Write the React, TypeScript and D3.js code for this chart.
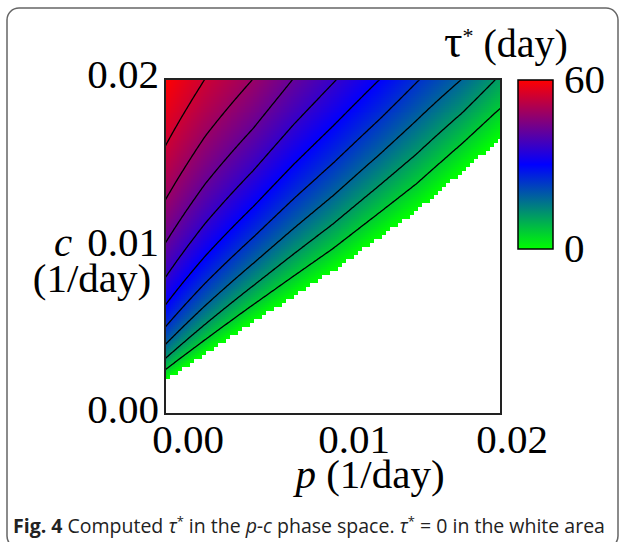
import { useEffect, useRef } from "react";
import * as d3 from "d3";

// axis ticks
const pTicks = [0, 0.01, 0.02];
const cTicks = [0, 0.01, 0.02];
const barTicks = [0, 60];

// contour levels of tau* (day)
const contourLevels = [6, 12, 18, 24, 30, 36, 42, 48, 54];

const topEdgeP = [0, 0.00238, 0.00524, 0.00762, 0.01024, 0.0128, 0.01518, 0.01768, 0.0197, 0.02];
const topEdgeTau = [60, 54, 48, 42, 36, 30, 24, 18, 12, 11.3];

// edge of the white area (tau* = 0)
const zeroEdgeP = [0, 0.005, 0.01, 0.015, 0.02];
const zeroEdgeC = [0.0021, 0.0054, 0.0086, 0.0122, 0.0165];

// colour map
const colorDomain = [0, 30, 60];
const colorRange = ["#00ff00", "#0000ff", "#ff0000"];

const App = () => {
  const svgRef = useRef(null);

  useEffect(() => {
    const svg = d3.select(svgRef.current);
    svg.selectAll("*").remove();

    const left = 165, top = 79, pw = 336, ph = 335;
    const pMax = 0.02, cMax = 0.02;
    const serif = "'Liberation Serif', 'Times New Roman', serif";

    const x = d3.scaleLinear().domain([0, pMax]).range([left, left + pw]);
    const y = d3.scaleLinear().domain([0, cMax]).range([top + ph, top]);
    const color = d3.scaleLinear<string>().domain(colorDomain).range(colorRange).clamp(true);

    const topTau = d3.scaleLinear().domain(topEdgeP).range(topEdgeTau);
    const zeroC = d3.scaleLinear().domain(zeroEdgeP).range(zeroEdgeC);
    // spread the top-edge value down to the white-area edge (log in c)
    const tau = (p, c) => {
      const c0 = zeroC(p);
      return (topTau(p) * Math.log(c / c0)) / Math.log(cMax / c0);
    };

    // frame round the figure
    svg
      .append("rect")
      .attr("x", 7)
      .attr("y", 8)
      .attr("width", 611)
      .attr("height", 540)
      .attr("rx", 12)
      .attr("fill", "none")
      .attr("stroke", "#666")
      .attr("stroke-width", 1.5);

    // heat map: coarse cells decide the white area, fine cells carry the colour
    const coarse = 84;
    const fine = coarse * 2;
    const cells = [];
    for (let i = 0; i < fine; i++) {
      for (let j = 0; j < fine; j++) {
        const ci = Math.floor(i / 2), cj = Math.floor(j / 2);
        const tc = tau(((ci + 0.5) / coarse) * pMax, ((cj + 0.5) / coarse) * cMax);
        if (tc <= 0) continue;
        const t = tau(((i + 0.5) / fine) * pMax, ((j + 0.5) / fine) * cMax);
        cells.push({ i, j, t: Math.max(0, t) });
      }
    }
    const dp = pMax / fine, dc = cMax / fine;
    svg
      .append("g")
      .attr("shape-rendering", "crispEdges")
      .selectAll("rect")
      .data(cells)
      .join("rect")
      .attr("x", (d) => x(d.i * dp))
      .attr("y", (d) => y((d.j + 1) * dc))
      .attr("width", x(dp) - x(0) + 0.6)
      .attr("height", y(0) - y(dc) + 0.6)
      .attr("fill", (d) => color(d.t));

    // contour lines
    const n = 200;
    const values = new Array(n * n);
    for (let gy = 0; gy < n; gy++) {
      for (let gx = 0; gx < n; gx++) {
        values[gx + gy * n] = tau(((gx + 0.5) / n) * pMax, cMax * (1 - (gy + 0.5) / n));
      }
    }
    const contours = d3.contours().size([n, n]).thresholds(contourLevels)(values);
    const proj = d3.geoTransform({
      point: function (gx, gy) {
        this.stream.point(left + (gx * pw) / n, top + (gy * ph) / n);
      },
    });
    const defs = svg.append("defs");
    defs
      .append("clipPath")
      .attr("id", "plot-clip")
      .append("rect")
      .attr("x", left)
      .attr("y", top)
      .attr("width", pw)
      .attr("height", ph);
    svg
      .append("g")
      .attr("clip-path", "url(#plot-clip)")
      .selectAll("path")
      .data(contours)
      .join("path")
      .attr("d", d3.geoPath(proj))
      .attr("fill", "none")
      .attr("stroke", "#000")
      .attr("stroke-width", 1.3);

    // plot border
    svg
      .append("rect")
      .attr("x", left)
      .attr("y", top)
      .attr("width", pw)
      .attr("height", ph)
      .attr("fill", "none")
      .attr("stroke", "#222")
      .attr("stroke-width", 2);

    // y tick labels
    svg
      .append("g")
      .selectAll("text")
      .data(cTicks)
      .join("text")
      .attr("x", left - 6)
      .attr("y", (d) => y(d) + 9)
      .attr("text-anchor", "end")
      .style("font-family", serif)
      .style("font-size", "41px")
      .text((d) => d3.format(".2f")(d));

    // y label
    svg
      .append("text")
      .attr("x", 54)
      .attr("y", y(0.01) + 9)
      .style("font-family", serif)
      .style("font-size", "41px")
      .style("font-style", "italic")
      .text("c");
    svg
      .append("text")
      .attr("x", 92)
      .attr("y", 292)
      .attr("text-anchor", "middle")
      .style("font-family", serif)
      .style("font-size", "41px")
      .text("(1/day)");

    // x tick labels
    const xShift = [23, 21, 11];
    svg
      .append("g")
      .selectAll("text")
      .data(pTicks)
      .join("text")
      .attr("x", (d, i) => x(d) + xShift[i])
      .attr("y", 453)
      .attr("text-anchor", "middle")
      .style("font-family", serif)
      .style("font-size", "41px")
      .text((d) => d3.format(".2f")(d));

    // x label
    const xl = svg
      .append("text")
      .attr("x", 370)
      .attr("y", 488)
      .attr("text-anchor", "middle")
      .style("font-family", serif)
      .style("font-size", "41px");
    xl.append("tspan").style("font-style", "italic").text("p");
    xl.append("tspan").text(" (1/day)");

    // colour bar
    const bx = 518, bw = 35;
    const by = d3.scaleLinear().domain([0, 60]).range([249, 80]);
    const grad = defs
      .append("linearGradient")
      .attr("id", "tau-gradient")
      .attr("x1", "0%")
      .attr("x2", "0%")
      .attr("y1", "100%")
      .attr("y2", "0%");
    colorDomain.forEach((v, i) => {
      grad
        .append("stop")
        .attr("offset", `${(v / 60) * 100}%`)
        .attr("stop-color", colorRange[i]);
    });
    svg
      .append("rect")
      .attr("x", bx)
      .attr("y", by(60))
      .attr("width", bw)
      .attr("height", by(0) - by(60))
      .attr("fill", "url(#tau-gradient)")
      .attr("stroke", "#000")
      .attr("stroke-width", 1.5);
    svg
      .append("g")
      .selectAll("text")
      .data(barTicks)
      .join("text")
      .attr("x", 564)
      .attr("y", (d) => by(d) + 13)
      .style("font-family", serif)
      .style("font-size", "41px")
      .text((d) => d);

    // colour bar title
    const title = svg
      .append("text")
      .attr("x", 444)
      .attr("y", 57)
      .style("font-family", serif)
      .style("font-size", "40px");
    title.append("tspan").style("font-size", "46px").text("τ");
    title.append("tspan").attr("dy", -14).style("font-size", "22px").text("*");
    title.append("tspan").attr("dy", 14).text(" (day)");

    // caption
    const cap = svg
      .append("text")
      .attr("x", 13)
      .attr("y", 533)
      .style("font-family", "'Open Sans', sans-serif")
      .style("font-size", "19.5px")
      .attr("fill", "#222");
    cap.append("tspan").style("font-weight", "bold").text("Fig. 4");
    cap.append("tspan").text(" Computed ");
    cap.append("tspan").style("font-style", "italic").text("τ");
    cap.append("tspan").attr("dy", -7).style("font-size", "13px").text("*");
    cap.append("tspan").attr("dy", 7).text(" in the ");
    cap.append("tspan").style("font-style", "italic").text("p-c");
    cap.append("tspan").text(" phase space. ");
    cap.append("tspan").style("font-style", "italic").text("τ");
    cap.append("tspan").attr("dy", -7).style("font-size", "13px").text("*");
    cap.append("tspan").attr("dy", 7).text(" = 0 in the white area");
  }, []);

  return (
    <svg
      ref={svgRef}
      width={625}
      height={542}
      style={{ position: "absolute", left: 0, top: 0, background: "#fff" }}
    />
  );
};

export default App;
